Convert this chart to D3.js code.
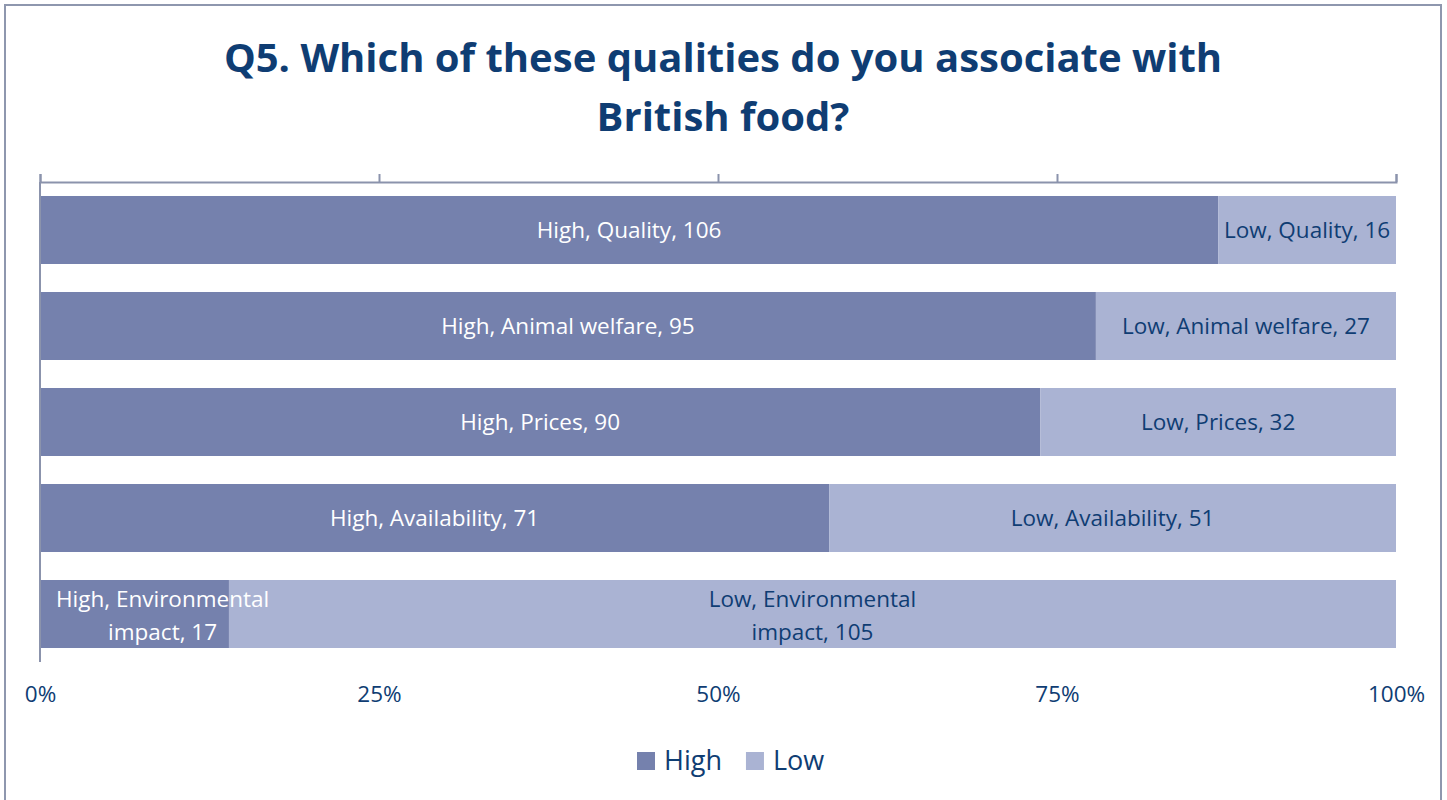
<!DOCTYPE html>
<html>
<head>
<meta charset="utf-8">
<script src="https://cdn.jsdelivr.net/npm/d3@7"></script>
<style>
  body { margin: 0; background: #fff; }
  svg { display: block; font-family: "Open Sans", sans-serif; }
</style>
</head>
<body>
<svg id="chart" width="1447" height="800"></svg>
<script>
// data
const categories = ["Quality", "Animal welfare", "Prices", "Availability", "Environmental impact"];
const highValues = [106, 95, 90, 71, 17];
const lowValues = [16, 27, 32, 51, 105];
const seriesNames = ["High", "Low"];
const tickValues = [0, 0.25, 0.5, 0.75, 1];

const colors = { High: "#7581ad", Low: "#aab3d3" };
const navy = "#0f3d73";
const axisColor = "#8b93ac";

const svg = d3.select("#chart");

// outer frame
svg.append("rect")
  .attr("x", 5).attr("y", 5)
  .attr("width", 1436).attr("height", 800)
  .attr("fill", "#fff")
  .attr("stroke", "#8e97ae")
  .attr("stroke-width", 2);

// title
const title = svg.append("text")
  .attr("text-anchor", "middle")
  .attr("fill", navy)
  .attr("font-weight", "bold")
  .attr("font-size", 40);
title.append("tspan").attr("x", 723).attr("y", 72).text("Q5. Which of these qualities do you associate with");
title.append("tspan").attr("x", 723).attr("y", 131).text("British food?");

const x = d3.scaleLinear().domain([0, 1]).range([40, 1396]);
const y = d3.scaleBand().domain(categories).range([182, 662]).paddingInner(0.2917).paddingOuter(0.1458);

// stacked rows as shares of the total
const rows = categories.map((c, i) => {
  const total = highValues[i] + lowValues[i];
  return { category: c, High: highValues[i] / total, Low: lowValues[i] / total, raw: { High: highValues[i], Low: lowValues[i] } };
});
const stacked = d3.stack().keys(seriesNames)(rows);

const g = svg.append("g");
stacked.forEach(layer => {
  g.selectAll(null)
    .data(layer)
    .join("rect")
    .attr("x", d => x(d[0]))
    .attr("y", d => y(d.data.category))
    .attr("width", d => x(d[1]) - x(d[0]))
    .attr("height", y.bandwidth())
    .attr("fill", colors[layer.key]);
});

// top axis
const topAxis = svg.append("g")
  .attr("transform", "translate(0,182)")
  .call(d3.axisTop(x).tickValues(tickValues).tickSize(8).tickFormat(""));
topAxis.select(".domain").attr("stroke", axisColor).attr("stroke-width", 2);
topAxis.selectAll(".tick line").attr("stroke", axisColor).attr("stroke-width", 2);

// left axis line
svg.append("line")
  .attr("x1", x(0)).attr("x2", x(0))
  .attr("y1", 182).attr("y2", 662)
  .attr("stroke", axisColor).attr("stroke-width", 2);

// bottom tick labels
const bottomAxis = svg.append("g")
  .attr("transform", "translate(0,683)")
  .call(d3.axisBottom(x).tickValues(tickValues).tickSize(0).tickFormat(d3.format(".0%")));
bottomAxis.select(".domain").remove();
bottomAxis.selectAll("text")
  .attr("fill", navy)
  .attr("font-size", 22.5)
  .attr("font-family", "Open Sans, sans-serif");

// data labels
stacked.forEach(layer => {
  layer.forEach(d => {
    const name = layer.key;
    const cat = d.data.category;
    const val = d.data.raw[name];
    const full = `${name}, ${cat}, ${val}`;
    const cy = y(cat) + y.bandwidth() / 2;
    const mid = (x(d[0]) + x(d[1])) / 2;
    const t = g.append("text")
      .attr("text-anchor", "middle")
      .attr("fill", name === "High" ? "#fff" : navy)
      .attr("font-size", 22.5)
      .text(full);
    const w = t.node().getComputedTextLength();
    if (w > 300) {
      const words = cat.split(" ");
      t.text(null);
      const l1 = `${name}, ${words[0]}`;
      const l2 = `${words.slice(1).join(" ")}, ${val}`;
      const a = t.append("tspan").attr("y", cy - 7).text(l1);
      const lw = a.node().getComputedTextLength();
      const cx = Math.max(mid, x(d[0]) + lw / 2 + 16);
      a.attr("x", cx);
      t.append("tspan").attr("x", cx).attr("y", cy + 26).text(l2);
    } else {
      t.attr("x", mid).attr("y", cy + 8);
    }
  });
});

// legend
const legend = svg.append("g").attr("transform", "translate(637,752)");
let lx = 0;
seriesNames.forEach(name => {
  legend.append("rect").attr("x", lx).attr("y", 0).attr("width", 18).attr("height", 18).attr("fill", colors[name]);
  const t = legend.append("text")
    .attr("x", lx + 27).attr("y", 18)
    .attr("fill", navy)
    .attr("font-size", 27)
    .text(name);
  lx += 27 + t.node().getComputedTextLength() + 24;
});
</script>
</body>
</html>
